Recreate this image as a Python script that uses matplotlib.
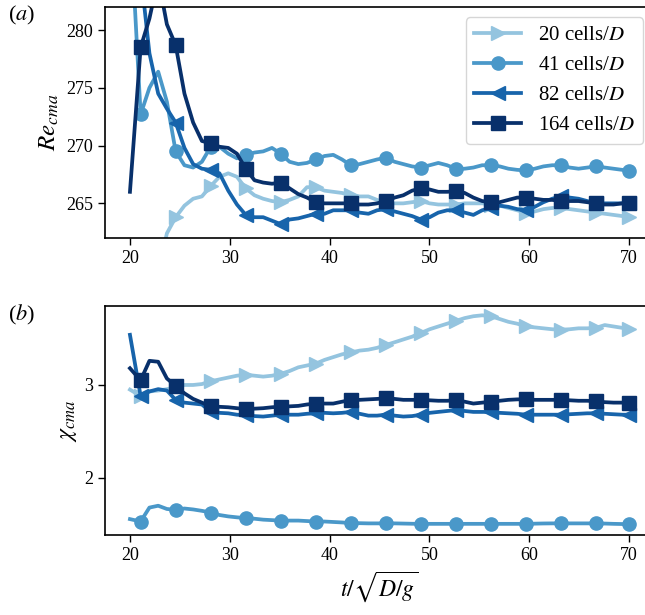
"""Re_cma と chi_cma の時間変化を解像度ごとに 2 段で描く."""

import matplotlib

matplotlib.use("Agg")
import matplotlib.pyplot as plt

plt.rcParams["font.family"] = ["Liberation Serif", "DejaVu Serif"]
plt.rcParams["mathtext.fontset"] = "stix"

# 時刻 t/sqrt(D/g)
T = [20.00, 21.07, 21.95, 22.83, 23.70, 24.58, 25.46, 26.33, 27.21, 28.09,
     28.97, 29.85, 30.72, 31.60, 32.48, 33.35, 34.23, 35.11, 35.99, 36.87,
     37.74, 38.62, 39.50, 40.37, 41.25, 42.13, 43.01, 43.89, 44.76, 45.64,
     46.52, 47.39, 48.27, 49.15, 50.03, 50.90, 51.78, 52.66, 53.54, 54.41,
     55.29, 56.17, 57.05, 57.92, 58.80, 59.68, 60.56, 61.43, 62.31, 63.19,
     64.07, 64.95, 65.82, 66.70, 67.58, 68.45, 69.33, 70.00]

LABELS = ["20 cells/$D$", "41 cells/$D$", "82 cells/$D$", "164 cells/$D$"]

# (a) Re_cma
RE_20 = [250.0, 254.0, 256.5, 259.0, 262.4, 263.8, 264.8, 265.4, 265.6, 266.5,
         267.3, 267.6, 267.3, 266.3, 265.7, 265.4, 265.2, 265.1, 265.3, 265.6,
         266.4, 266.4, 266.1, 266.0, 265.9, 265.7, 265.6, 265.6, 265.3, 265.0,
         265.0, 265.0, 265.1, 265.2, 265.0, 264.9, 264.9, 264.9, 265.0, 265.0,
         265.0, 264.9, 264.8, 264.6, 264.4, 264.2, 264.3, 264.5, 264.6, 264.6,
         264.5, 264.4, 264.3, 264.2, 264.1, 264.0, 263.9, 263.8]
RE_41 = [290.0, 272.7, 275.0, 276.4, 273.8, 269.5, 268.3, 268.1, 268.6, 269.9,
         269.9, 269.3, 268.9, 269.2, 269.4, 269.5, 269.8, 269.3, 268.6, 268.4,
         268.5, 268.8, 269.1, 269.2, 268.8, 268.3, 268.4, 268.6, 268.8, 268.95,
         268.6, 268.4, 268.2, 268.1, 268.3, 268.5, 268.3, 268.0, 268.0, 268.1,
         268.3, 268.3, 268.2, 268.0, 267.9, 267.85, 268.0, 268.2, 268.3, 268.3,
         268.1, 268.0, 268.1, 268.2, 268.1, 268.0, 267.9, 267.8]
RE_82 = [300.0, 285.0, 278.0, 274.5, 273.2, 272.0, 269.8, 268.4, 268.0, 267.9,
         267.6, 266.1, 264.9, 264.0, 263.8, 263.8, 263.5, 263.2, 263.6, 263.7,
         263.9, 264.1, 264.1, 264.4, 264.4, 264.4, 264.2, 264.1, 264.4, 264.5,
         264.3, 264.1, 263.9, 263.6, 263.8, 264.2, 264.4, 264.4, 264.2, 264.0,
         264.4, 264.6, 264.8, 264.7, 264.5, 264.4, 264.7, 265.1, 265.4, 265.6,
         265.5, 265.4, 265.2, 265.0, 265.0, 265.0, 265.0, 265.0]
RE_164 = [266.0, 278.5, 281.0, 284.5, 280.5, 278.7, 274.5, 272.0, 270.4, 270.2,
          269.9, 269.8, 269.3, 268.0, 267.0, 266.8, 266.7, 266.8, 266.3, 265.8,
          265.5, 265.1, 265.0, 265.0, 265.0, 265.0, 264.9, 264.9, 265.0, 265.2,
          265.5, 265.7, 266.1, 266.3, 266.2, 266.0, 266.0, 266.05, 265.9, 265.5,
          265.2, 265.1, 265.1, 265.3, 265.5, 265.5, 265.4, 265.3, 265.3, 265.2,
          265.2, 265.2, 265.1, 265.0, 264.9, 264.9, 265.0, 265.0]

# (b) chi_cma
CHI_20 = [2.95, 2.88, 2.93, 2.94, 2.955, 2.975, 3.0, 3.0, 3.01, 3.04,
          3.06, 3.08, 3.10, 3.11, 3.10, 3.09, 3.10, 3.12, 3.15, 3.19,
          3.21, 3.23, 3.27, 3.30, 3.33, 3.35, 3.37, 3.38, 3.40, 3.43,
          3.46, 3.49, 3.52, 3.56, 3.60, 3.63, 3.66, 3.69, 3.72, 3.74,
          3.75, 3.74, 3.71, 3.68, 3.66, 3.63, 3.62, 3.61, 3.60, 3.595,
          3.60, 3.61, 3.61, 3.615, 3.645, 3.63, 3.615, 3.60]
CHI_41 = [1.556, 1.53, 1.68, 1.70, 1.665, 1.656, 1.67, 1.66, 1.645, 1.627,
          1.60, 1.585, 1.575, 1.567, 1.56, 1.55, 1.545, 1.54, 1.54, 1.54,
          1.535, 1.53, 1.53, 1.525, 1.52, 1.513, 1.512, 1.51, 1.51, 1.51,
          1.51, 1.508, 1.506, 1.505, 1.505, 1.505, 1.505, 1.505, 1.505, 1.505,
          1.505, 1.505, 1.505, 1.505, 1.505, 1.505, 1.507, 1.509, 1.51, 1.51,
          1.51, 1.51, 1.51, 1.51, 1.508, 1.505, 1.503, 1.50]
CHI_82 = [3.54, 2.88, 2.93, 2.955, 2.94, 2.84, 2.81, 2.80, 2.79, 2.71,
          2.70, 2.695, 2.68, 2.675, 2.665, 2.66, 2.67, 2.68, 2.68, 2.68,
          2.69, 2.695, 2.70, 2.695, 2.70, 2.71, 2.69, 2.67, 2.67, 2.68,
          2.67, 2.66, 2.665, 2.68, 2.70, 2.71, 2.72, 2.73, 2.72, 2.71,
          2.71, 2.71, 2.70, 2.695, 2.69, 2.68, 2.68, 2.68, 2.68, 2.68,
          2.685, 2.69, 2.695, 2.695, 2.69, 2.685, 2.68, 2.68]
CHI_164 = [3.18, 3.05, 3.26, 3.25, 3.07, 2.99, 2.91, 2.85, 2.81, 2.77,
           2.765, 2.76, 2.75, 2.74, 2.745, 2.75, 2.76, 2.767, 2.77, 2.775,
           2.79, 2.80, 2.80, 2.80, 2.82, 2.84, 2.84, 2.845, 2.85, 2.857,
           2.85, 2.84, 2.84, 2.84, 2.835, 2.83, 2.83, 2.835, 2.82, 2.80,
           2.81, 2.82, 2.83, 2.84, 2.845, 2.846, 2.84, 2.84, 2.84, 2.84,
           2.835, 2.83, 2.83, 2.825, 2.815, 2.81, 2.81, 2.81]

COLORS = [plt.cm.Blues(0.4), plt.cm.Blues(0.6), plt.cm.Blues(0.8), plt.cm.Blues(1.0)]
MARKERS = [">", "o", "<", "s"]


def draw_panel(ax, series):
    """1 パネル分の 4 本の曲線を描く."""
    for ys, color, marker, label in zip(series, COLORS, MARKERS, LABELS):
        ax.plot(T, ys, color=color, marker=marker, markevery=(1, 4),
                lw=2.7, ms=9.5, label=label)
    # 右端の枠は図の外にはみ出す(元図はトリミングされている)
    ax.set_xlim(17.5, 72.5)
    ax.set_xticks([20, 30, 40, 50, 60, 70])
    ax.tick_params(labelsize=13, length=5, width=1)
    for sp in ax.spines.values():
        sp.set_linewidth(1.2)


fig = plt.figure(figsize=(6.45, 6.15), dpi=100)
ax1 = fig.add_axes([0.1628, 0.6130, 0.851, 0.3756])
ax2 = fig.add_axes([0.1628, 0.1301, 0.851, 0.3723])

draw_panel(ax1, [RE_20, RE_41, RE_82, RE_164])
ax1.set_ylim(262, 282)
ax1.set_yticks([265, 270, 275, 280])
ax1.set_ylabel("$Re_{cma}$", fontsize=18)
ax1.legend(loc="upper right", fontsize=15, handlelength=2.25,
           borderaxespad=0.5, fancybox=True, framealpha=0.8)

draw_panel(ax2, [CHI_20, CHI_41, CHI_82, CHI_164])
ax2.set_ylim(1.385, 3.85)
ax2.set_yticks([2, 3])
ax2.set_ylabel(r"$\chi_{cma}$", fontsize=17)
ax2.set_xlabel(r"$t/\sqrt{D/g}$", fontsize=17)

fig.text(0.012, 0.993, "($a$)", fontsize=16, va="top", ha="left")
fig.text(0.012, 0.507, "($b$)", fontsize=16, va="top", ha="left")

fig.savefig("out.png", dpi=100)
